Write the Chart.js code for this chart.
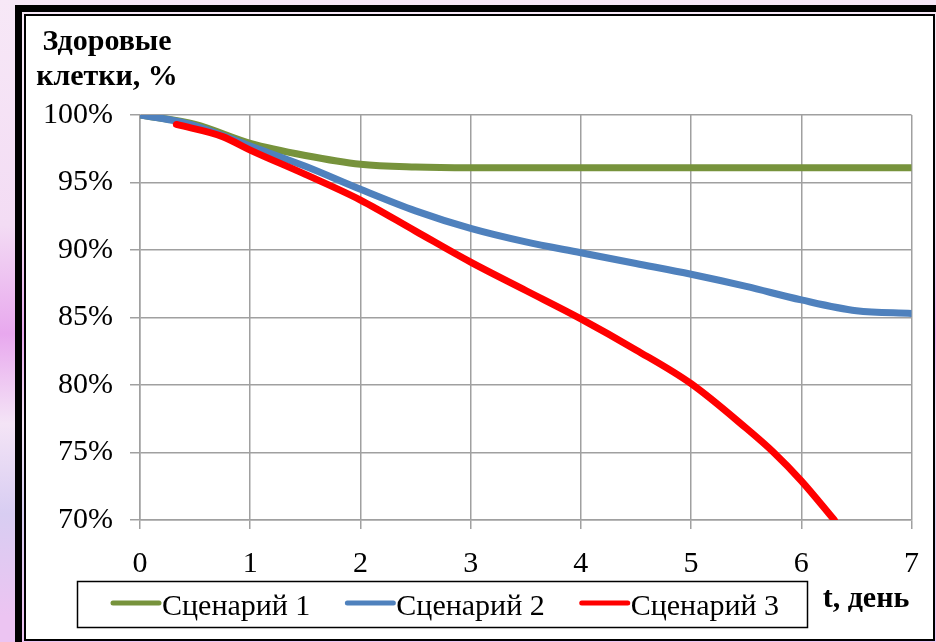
<!DOCTYPE html>
<html>
<head>
<meta charset="utf-8">
<script src="https://cdn.jsdelivr.net/npm/chart.js@4.4.1/dist/chart.umd.min.js"></script>
<style>
  html, body { margin: 0; padding: 0; }
  body {
    width: 936px; height: 642px; overflow: hidden; position: relative;
    background: linear-gradient(180deg, #f7e8f7 0%, #f3dcf4 35%, #e8a8ee 52%, #f4e4f6 66%, #d8cdf2 80%, #ecc4f2 96%);
  }
  #outer {
    position: absolute; left: 15px; top: 5px; width: 940px; height: 640px;
    border-left: 7px solid #000; border-top: 7px solid #000;
  }
  #inner {
    position: absolute; left: 24px; top: 14px; width: 907px; height: 623px;
    border: 2px solid #000; background: #fff;
  }
  #chart { position: absolute; left: 0; top: 0; }
</style>
</head>
<body>
<div id="outer"></div>
<div id="inner"></div>
<canvas id="chart" width="936" height="642"></canvas>
<script>
// значения
const seriesNames = ["Сценарий 1", "Сценарий 2", "Сценарий 3"];
const seriesColors = ["#77933c", "#4f81bd", "#ff0000"];

const days1 = [0, 0.5, 1, 1.5, 2, 2.5, 3, 4, 5, 6, 7];
const cells1 = [100, 99.3, 97.9, 97.0, 96.35, 96.15, 96.1, 96.1, 96.1, 96.1, 96.1];

const days2 = [0, 0.3, 0.5, 1, 1.5, 2, 2.5, 3, 3.5, 4, 4.5, 5, 5.5, 6, 6.5, 7];
const cells2 = [100, 99.6, 99.2, 97.7, 96.2, 94.5, 92.9, 91.6, 90.6, 89.8, 89.0, 88.2, 87.3, 86.3, 85.5, 85.3];

const days3 = [0.33, 0.75, 1, 1.5, 2, 2.5, 3, 3.5, 4, 4.5, 5, 5.5, 5.75, 6, 6.3];
const cells3 = [99.3, 98.4, 97.4, 95.6, 93.7, 91.4, 89.1, 87.0, 84.9, 82.6, 80.1, 76.8, 75.0, 72.9, 70.0];

const xTicks = [0, 1, 2, 3, 4, 5, 6, 7];
const yTicks = [70, 75, 80, 85, 90, 95, 100];

const titleLines = ["Здоровые", "клетки, %"];
const xTitle = "t, день";

function toPoints(xs, ys) {
  return xs.map(function (x, i) { return { x: x, y: ys[i] }; });
}

const allDays = [days1, days2, days3];
const allCells = [cells1, cells2, cells3];

const datasets = seriesNames.map(function (name, i) {
  return {
    label: name,
    data: toPoints(allDays[i], allCells[i]),
    borderColor: seriesColors[i],
    backgroundColor: seriesColors[i],
    borderWidth: 7,
    borderCapStyle: "round",
    pointRadius: 0,
    cubicInterpolationMode: "monotone",
    fill: false,
    order: seriesNames.length - i  // последняя серия поверх, как в Excel
  };
});

const gridColor = "#a0a0a0";
const serif = "'Liberation Serif', 'Times New Roman', serif";

// подписи и легенда рисуются вручную
const extras = {
  id: "extras",
  afterDraw: function (chart) {
    const ctx = chart.ctx;
    ctx.save();
    ctx.fillStyle = "#000";
    ctx.textAlign = "center";
    ctx.textBaseline = "alphabetic";
    ctx.font = "bold 30px " + serif;
    ctx.fillText(titleLines[0], 107, 50);
    ctx.fillText(titleLines[1], 107, 85);
    ctx.fillText(xTitle, 866, 607);

    // легенда в рамке
    ctx.lineWidth = 1.5;
    ctx.strokeStyle = "#000";
    ctx.strokeRect(77.5, 581.5, 730, 46);
    ctx.font = "30px " + serif;
    ctx.textAlign = "left";
    let x = 113;
    chart.data.datasets.forEach(function (ds) {
      ctx.strokeStyle = ds.borderColor;
      ctx.lineWidth = 5;
      ctx.lineCap = "round";
      ctx.beginPath();
      ctx.moveTo(x, 603);
      ctx.lineTo(x + 46, 603);
      ctx.stroke();
      ctx.fillStyle = "#000";
      ctx.fillText(ds.label, x + 49, 615);
      x += 49 + ctx.measureText(ds.label).width + 37;
    });
    ctx.restore();
  }
};

new Chart(document.getElementById("chart").getContext("2d"), {
  type: "line",
  data: { datasets: datasets },
  options: {
    responsive: false,
    animation: false,
    layout: { padding: { left: 0, right: 23, top: 115, bottom: 0 } },
    plugins: { legend: { display: false }, tooltip: { enabled: false } },
    scales: {
      x: {
        type: "linear",
        min: 0,
        max: 7,
        afterFit: function (scale) { scale.height = 122; },
        afterBuildTicks: function (scale) {
          scale.ticks = xTicks.map(function (v) { return { value: v }; });
        },
        ticks: {
          color: "#000",
          font: { family: serif, size: 30 },
          padding: 17,
          maxRotation: 0,
          callback: function (v) { return v; }
        },
        grid: { color: gridColor, lineWidth: 1.5, tickLength: 9 },
        border: { color: gridColor, width: 1.5 }
      },
      y: {
        min: 70,
        max: 100,
        afterFit: function (scale) { scale.width = 140; },
        afterBuildTicks: function (scale) {
          scale.ticks = yTicks.map(function (v) { return { value: v }; });
        },
        ticks: {
          color: "#000",
          font: { family: serif, size: 30 },
          padding: 17,
          callback: function (v) { return v + "%"; }
        },
        grid: { color: gridColor, lineWidth: 1.5, tickLength: 10 },
        border: { color: gridColor, width: 1.5 }
      }
    }
  },
  plugins: [extras]
});
</script>
</body>
</html>
